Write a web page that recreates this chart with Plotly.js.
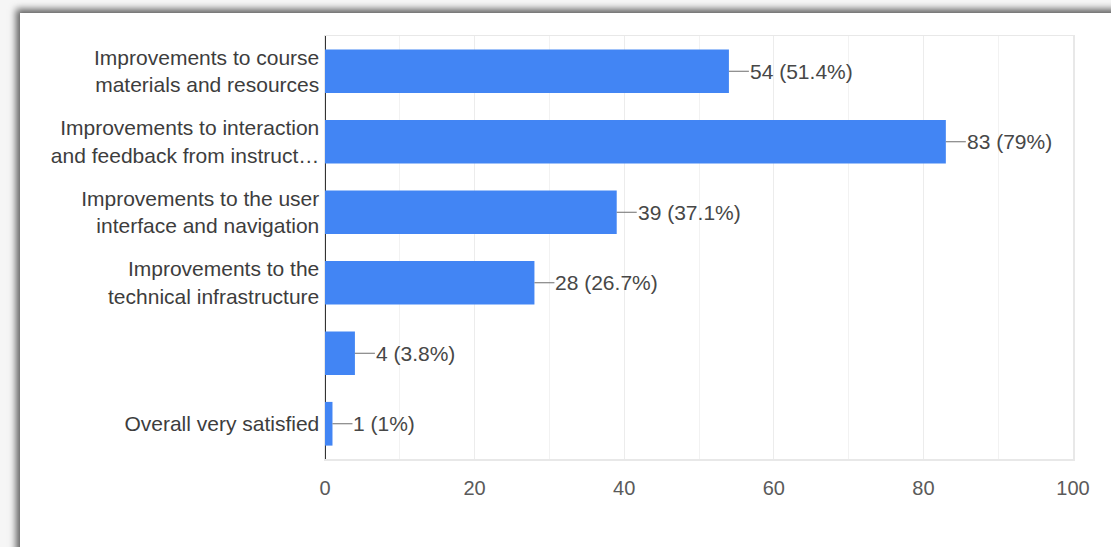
<!DOCTYPE html>
<html>
<head>
<meta charset="utf-8">
<script src="https://cdn.plot.ly/plotly-3.0.1.min.js"></script>
<style>
  html, body { margin: 0; padding: 0; background: #f6f6f6; overflow: hidden; }
  #card {
    position: absolute; left: 20px; top: 13px; width: 1200px; height: 700px;
    background: #ffffff;
    box-shadow: -4px -4px 7px rgba(0, 0, 0, 0.6);
  }
  #chart { position: absolute; left: 0; top: 0; width: 1111px; height: 547px; }
</style>
</head>
<body>
<div id="card"></div>
<div id="chart"></div>
<script>
// Survey responses: suggested improvements (count and share of respondents)
const categoryKeys = ['c1', 'c2', 'c3', 'c4', 'c5', 'c6'];
const categoryLabels = [
  'Improvements to course<br>materials and resources',
  'Improvements to interaction<br>and feedback from instruct…',
  'Improvements to the user<br>interface and navigation',
  'Improvements to the<br>technical infrastructure',
  '',
  'Overall very satisfied'
];
const counts = [54, 83, 39, 28, 4, 1];
const percentLabels = ['51.4%', '79%', '37.1%', '26.7%', '3.8%', '1%'];
const xTicks = [0, 20, 40, 60, 80, 100];

const bar = {
  type: 'bar',
  orientation: 'h',
  x: counts,
  y: categoryKeys,
  marker: { color: '#4285f4' },
  hoverinfo: 'none'
};

// Value labels joined to each bar end by a short grey leader line
const annotations = counts.map((v, i) => ({
  x: v,
  y: categoryKeys[i],
  xref: 'x',
  yref: 'y',
  text: v + ' (' + percentLabels[i] + ')',
  showarrow: true,
  arrowhead: 0,
  arrowwidth: 1,
  arrowcolor: '#6e6e6e',
  ax: 20,
  ay: 0,
  xanchor: 'left',
  standoff: 0,
  borderpad: 0,
  font: { family: 'Liberation Sans, Arial, sans-serif', size: 21, color: '#474747' }
}));

const layout = {
  width: 1111,
  height: 547,
  margin: { l: 325, r: 38, t: 36, b: 88 },
  paper_bgcolor: 'rgba(0,0,0,0)',
  plot_bgcolor: '#ffffff',
  showlegend: false,
  bargap: 0.38,
  font: { family: 'Liberation Sans, Arial, sans-serif' },
  xaxis: {
    range: [0, 100],
    tickvals: xTicks,
    ticktext: xTicks.map(String),
    showgrid: true,
    gridcolor: '#ececec',
    gridwidth: 1,
    minor: { dtick: 10, tick0: 0, showgrid: true, gridcolor: '#f2f2f2', gridwidth: 1 },
    zeroline: true,
    zerolinecolor: '#333333',
    zerolinewidth: 1.5,
    showline: true,
    mirror: true,
    linecolor: '#e8e8e8',
    linewidth: 1.5,
    ticks: '',
    ticklabelstandoff: 10,
    tickfont: { size: 20, color: '#5a5a5a' },
    fixedrange: true
  },
  yaxis: {
    type: 'category',
    categoryorder: 'array',
    categoryarray: categoryKeys,
    tickvals: categoryKeys,
    ticktext: categoryLabels,
    range: [5.5, -0.5],
    showgrid: false,
    zeroline: false,
    showline: true,
    mirror: true,
    linecolor: '#e8e8e8',
    linewidth: 1.5,
    ticks: '',
    ticklabelstandoff: 0,
    tickfont: { size: 21, color: '#3d3d3d' },
    fixedrange: true
  },
  annotations: annotations
};

Plotly.newPlot('chart', [bar], layout, { displayModeBar: false, staticPlot: true });
</script>
</body>
</html>
